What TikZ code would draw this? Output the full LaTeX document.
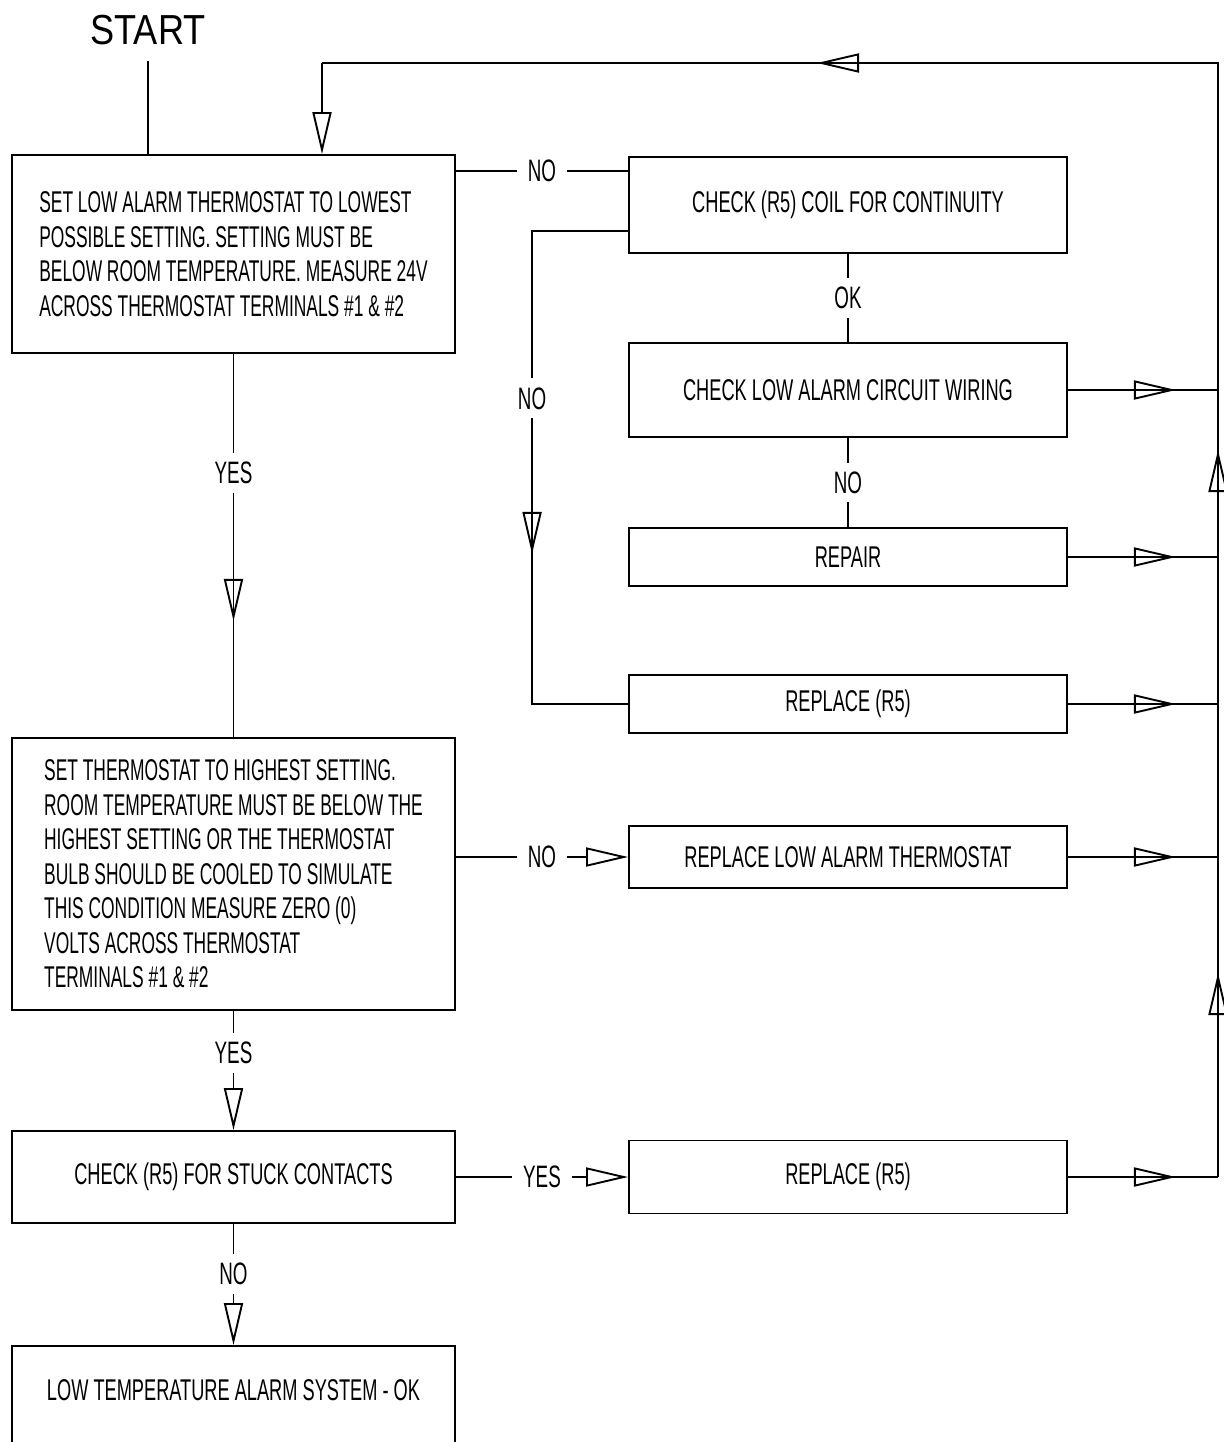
\documentclass[tikz,border=0pt]{standalone}
\usepackage{fontspec}
\setmainfont{Liberation Sans}
\newfontfamily\cadfont[FakeStretch=0.607]{Liberation Sans}
\newfontfamily\cadnarrow[FakeStretch=0.58]{Liberation Sans}
\newfontfamily\startfont[FakeStretch=0.86]{Liberation Sans}
\usetikzlibrary{arrows.meta,decorations.markings}

\begin{document}
\begin{tikzpicture}[line width=1.9pt, x=1pt, y=-1pt,
  >={Triangle[open,length=42pt,width=19pt]},
  lbox/.style={draw, minimum width=443pt, inner sep=0pt, align=left, font=\cadfont\fontsize{30}{34.5}\selectfont},
  rbox/.style={draw, minimum width=438pt, inner sep=0pt, font=\cadfont\fontsize{30}{34.5}\selectfont},
  lbl/.style={fill=white, inner xsep=11pt, inner ysep=9pt, font=\cadfont\fontsize{31}{31}\selectfont},
  tipat/.style={postaction={decorate, decoration={markings, mark=at position #1 with {\arrow{>}}}}}]
  \useasboundingbox (0,0) rectangle (1223,1442);
  % left column
  \node[font=\startfont\fontsize{42}{42}\selectfont] (start) at (148,30) {START};
  \node[lbox, font=\cadnarrow\fontsize{30}{34.5}\selectfont, minimum height=198pt] (b1) at (233.5,254) {SET LOW ALARM THERMOSTAT TO LOWEST\\POSSIBLE SETTING. SETTING MUST BE\\BELOW ROOM TEMPERATURE. MEASURE 24V\\ACROSS THERMOSTAT TERMINALS \#1 \& \#2};
  \node[lbox, font=\cadnarrow\fontsize{30}{34.5}\selectfont, minimum height=272pt] (b4) at (233.5,874) {SET THERMOSTAT TO HIGHEST SETTING.\\ROOM TEMPERATURE MUST BE BELOW THE\\HIGHEST SETTING OR THE THERMOSTAT\\BULB SHOULD BE COOLED TO SIMULATE\\THIS CONDITION MEASURE ZERO (0)\\VOLTS ACROSS THERMOSTAT\\TERMINALS \#1 \& \#2};
  \node[lbox, minimum height=92pt] (stuck) at (233.5,1177) {CHECK (R5) FOR STUCK CONTACTS};
  \node[lbox, anchor=north, minimum height=150pt, text height=21pt, text depth=61pt] (sysok) at (233.5,1345) {LOW TEMPERATURE ALARM SYSTEM - OK};
  % right column
  \node[rbox, minimum height=96pt] (coilchk) at (848,205) {CHECK (R5) COIL FOR CONTINUITY};
  \node[rbox, minimum height=94pt] (wiring) at (848,390) {CHECK LOW ALARM CIRCUIT WIRING};
  \node[rbox, minimum height=58pt] (repair) at (848,557) {REPAIR};
  \node[rbox, minimum height=58pt] (replr5a) at (848,704) {REPLACE (R5)};
  \node[rbox, minimum height=62pt] (replth) at (848,857) {REPLACE LOW ALARM THERMOSTAT};
  \node[rbox, minimum height=73pt] (replr5b) at (848,1177) {REPLACE (R5)};
  \coordinate (bus) at (1218,63);
  \coordinate (loop) at (322,63);

  % main flow
  \draw ([yshift=-12pt]start.south) -- (start.south |- b1.north);
  \draw ([yshift=-17pt]b1.north east) -- node[lbl]{NO} ([yshift=-17pt]b1.north east -| coilchk.west);
  \draw[tipat=419pt] ([yshift=23pt]coilchk.south west) -- ++(-96,0) |- node[lbl, pos=0.177]{NO} (replr5a.west);
  \draw (coilchk) -- node[lbl]{OK} (wiring);
  \draw (wiring) -- node[lbl]{NO} (repair);
  \draw[tipat=267pt] (b1) -- node[lbl, pos=0.31]{YES} (b4);
  \draw[->] (b4.east |- replth) -- node[lbl]{NO} (replth);
  \draw[->] (b4) -- node[lbl, pos=0.35]{YES} (stuck);
  \draw[->] (stuck) -- node[lbl]{YES} (replr5b);
  \draw[->] (stuck) -- node[lbl, pos=0.41]{NO} (sysok);

  % return to start
  \foreach \n in {wiring,repair,replr5a,replth,replr5b}
    \draw[tipat=108pt] (\n.east) -- (\n.east -| bus);
  \draw[tipat=204pt, tipat=727pt, tipat=1515pt] (replr5b.east -| bus) -- (bus) -- (loop);
  \draw[->] (loop) -- (loop |- b1.north);
\end{tikzpicture}
\end{document}
